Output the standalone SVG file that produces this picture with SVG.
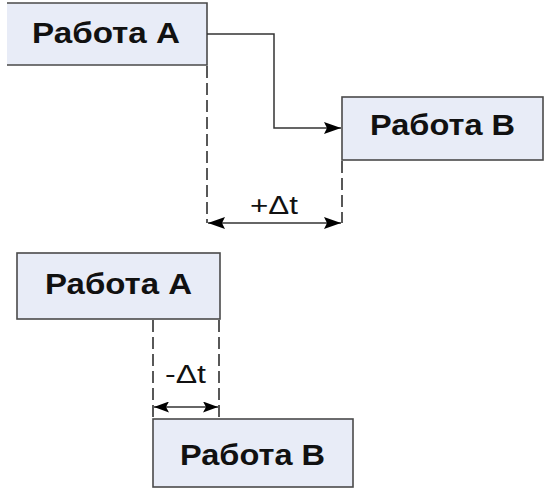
<svg xmlns="http://www.w3.org/2000/svg" width="545" height="490" viewBox="0 0 545 490">
<style>
.box{fill:#e8ecf7;stroke:#4a4a4a;stroke-width:1.6}
.lbl{font-family:"Liberation Sans",Arial,sans-serif;font-weight:bold;font-size:30px;fill:#111;text-anchor:start}
.dim{font-family:"Liberation Sans",Arial,sans-serif;font-size:26px;fill:#111}
.dash{stroke:#222;stroke-width:1.5;fill:none;stroke-dasharray:12 5}
.ln{stroke:#333;stroke-width:1.5;fill:none}
</style>
<defs>
<marker id="ah" viewBox="0 0 17 12" refX="17" refY="6" markerWidth="17" markerHeight="12" markerUnits="userSpaceOnUse" orient="auto-start-reverse">
<path d="M0,0 L17,6 L0,12 L3,6 Z" fill="#000"/>
</marker>
<marker id="ad" viewBox="0 0 15 11" refX="15" refY="5.5" markerWidth="15" markerHeight="11" markerUnits="userSpaceOnUse" orient="auto-start-reverse">
<path d="M0,0 L15,5.5 L0,11 L3,5.5 Z" fill="#000"/>
</marker>
</defs>
<rect width="545" height="490" fill="#fff"/>
<g id="top-A">
<rect x="7" y="3" width="200" height="62" fill="#e8ecf7"/>
<path d="M7,3 H207 V65 H7" fill="none" stroke="#4a4a4a" stroke-width="1.6"/>
<text class="lbl" x="32" y="43" textLength="148" lengthAdjust="spacingAndGlyphs">Работа А</text>
</g>
<g id="top-B">
<rect class="box" x="342" y="97" width="201" height="63"/>
<text class="lbl" x="370" y="135" textLength="145" lengthAdjust="spacingAndGlyphs">Работа В</text>
</g>
<g id="bottom-A">
<rect class="box" x="17" y="253" width="203" height="66"/>
<text class="lbl" x="45" y="294" textLength="147" lengthAdjust="spacingAndGlyphs">Работа А</text>
</g>
<g id="bottom-B">
<rect class="box" x="153" y="419" width="200" height="68"/>
<text class="lbl" x="180" y="465" textLength="145" lengthAdjust="spacingAndGlyphs">Работа В</text>
</g>
<g id="connectors">
<path class="ln" d="M207,34 H274 V128 H341" marker-end="url(#ah)"/>
<line class="dash" x1="207" y1="66" x2="207" y2="223"/>
<line class="dash" x1="342" y1="161" x2="342" y2="223"/>
<line class="ln" x1="208" y1="223" x2="341" y2="223" marker-start="url(#ah)" marker-end="url(#ah)"/>
<text class="dim" x="250" y="214" textLength="48" lengthAdjust="spacingAndGlyphs">+Δt</text>
<line class="dash" x1="153" y1="320" x2="153" y2="418"/>
<line class="dash" x1="219" y1="320" x2="219" y2="418"/>
<line class="ln" x1="154" y1="407" x2="218" y2="407" marker-start="url(#ad)" marker-end="url(#ad)"/>
<text class="dim" x="165" y="383" textLength="41" lengthAdjust="spacingAndGlyphs">-Δt</text>
</g>
</svg>
